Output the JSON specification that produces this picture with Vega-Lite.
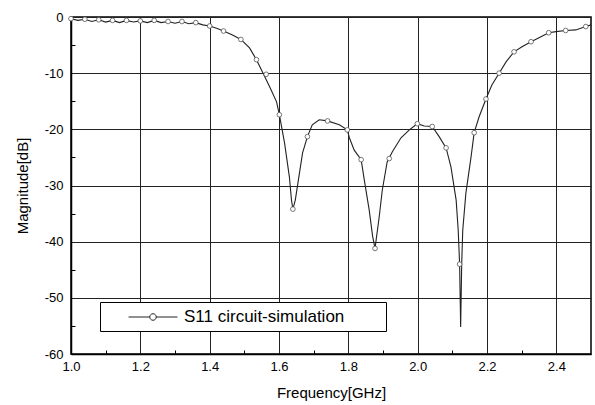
{
  "$schema": "https://vega.github.io/schema/vega-lite/v6.json",
  "width": 520,
  "height": 337,
  "autosize": {"type": "none"},
  "padding": {"left": 71, "top": 17, "right": 4, "bottom": 51},
  "background": "white",
  "config": {
    "font": "Liberation Sans",
    "view": {"stroke": "black", "strokeWidth": 1.5},
    "axis": {
      "labelFont": "Liberation Sans",
      "titleFont": "Liberation Sans",
      "labelFontSize": 13,
      "titleFontSize": 15,
      "titleFontWeight": "normal",
      "labelColor": "black",
      "titleColor": "black",
      "domainColor": "black",
      "domainWidth": 1.5,
      "gridColor": "#222",
      "gridWidth": 1,
      "tickColor": "black",
      "tickWidth": 1,
      "tickSize": -4,
      "labelFlush": false
    }
  },
  "datasets": {
    "curve": [
      {"f": 1.00, "s11": -0.3}, {"f": 1.02, "s11": -0.6}, {"f": 1.04, "s11": -0.4}, {"f": 1.06, "s11": -0.8},
      {"f": 1.08, "s11": -0.5}, {"f": 1.10, "s11": -0.9}, {"f": 1.12, "s11": -0.6}, {"f": 1.14, "s11": -1.0},
      {"f": 1.16, "s11": -0.6}, {"f": 1.18, "s11": -0.9}, {"f": 1.20, "s11": -0.7}, {"f": 1.22, "s11": -1.0},
      {"f": 1.24, "s11": -0.6}, {"f": 1.26, "s11": -1.0}, {"f": 1.28, "s11": -0.8}, {"f": 1.30, "s11": -1.1},
      {"f": 1.32, "s11": -0.8}, {"f": 1.34, "s11": -1.2}, {"f": 1.36, "s11": -1.0}, {"f": 1.38, "s11": -1.4},
      {"f": 1.40, "s11": -1.6}, {"f": 1.42, "s11": -2.0}, {"f": 1.44, "s11": -2.5}, {"f": 1.466, "s11": -3.2},
      {"f": 1.49, "s11": -4.0}, {"f": 1.515, "s11": -5.5}, {"f": 1.535, "s11": -7.6}, {"f": 1.553, "s11": -9.9},
      {"f": 1.573, "s11": -12.4}, {"f": 1.593, "s11": -15.1}, {"f": 1.601, "s11": -17.4}, {"f": 1.616, "s11": -22.4},
      {"f": 1.630, "s11": -28.5}, {"f": 1.636, "s11": -32.6}, {"f": 1.640, "s11": -34.2}, {"f": 1.647, "s11": -32.6},
      {"f": 1.659, "s11": -27.8}, {"f": 1.668, "s11": -24.2}, {"f": 1.682, "s11": -21.3}, {"f": 1.696, "s11": -19.2},
      {"f": 1.716, "s11": -18.3}, {"f": 1.740, "s11": -18.5}, {"f": 1.774, "s11": -19.2}, {"f": 1.797, "s11": -20.1},
      {"f": 1.803, "s11": -21.5}, {"f": 1.817, "s11": -23.7}, {"f": 1.837, "s11": -25.4}, {"f": 1.846, "s11": -29.0},
      {"f": 1.860, "s11": -34.3}, {"f": 1.870, "s11": -39.0}, {"f": 1.877, "s11": -41.2}, {"f": 1.889, "s11": -35.6},
      {"f": 1.898, "s11": -30.8}, {"f": 1.912, "s11": -25.8}, {"f": 1.927, "s11": -24.0}, {"f": 1.952, "s11": -21.5},
      {"f": 1.976, "s11": -20.1}, {"f": 1.999, "s11": -19.0}, {"f": 2.019, "s11": -19.4}, {"f": 2.042, "s11": -19.5},
      {"f": 2.062, "s11": -21.3}, {"f": 2.082, "s11": -23.3}, {"f": 2.096, "s11": -26.7}, {"f": 2.111, "s11": -32.6},
      {"f": 2.117, "s11": -38.0}, {"f": 2.121, "s11": -44.0}, {"f": 2.124, "s11": -55.2}, {"f": 2.127, "s11": -44.0},
      {"f": 2.130, "s11": -38.0}, {"f": 2.139, "s11": -31.4}, {"f": 2.154, "s11": -24.9}, {"f": 2.163, "s11": -20.6},
      {"f": 2.177, "s11": -17.8}, {"f": 2.197, "s11": -14.6}, {"f": 2.214, "s11": -12.1}, {"f": 2.235, "s11": -10.0},
      {"f": 2.255, "s11": -8.0}, {"f": 2.278, "s11": -6.2}, {"f": 2.301, "s11": -5.3}, {"f": 2.327, "s11": -4.4},
      {"f": 2.350, "s11": -3.7}, {"f": 2.378, "s11": -2.8}, {"f": 2.399, "s11": -2.6}, {"f": 2.427, "s11": -2.4},
      {"f": 2.456, "s11": -2.3}, {"f": 2.485, "s11": -1.7}, {"f": 2.500, "s11": -1.4}
    ],
    "markers": [
      {"f": 1.00, "s11": -0.3}, {"f": 1.04, "s11": -0.4}, {"f": 1.08, "s11": -0.5}, {"f": 1.12, "s11": -0.6},
      {"f": 1.16, "s11": -0.6}, {"f": 1.20, "s11": -0.7}, {"f": 1.24, "s11": -0.6}, {"f": 1.28, "s11": -0.8},
      {"f": 1.32, "s11": -0.8}, {"f": 1.36, "s11": -1.0}, {"f": 1.40, "s11": -1.6}, {"f": 1.44, "s11": -2.5},
      {"f": 1.49, "s11": -4.0}, {"f": 1.535, "s11": -7.6}, {"f": 1.563, "s11": -10.2}, {"f": 1.601, "s11": -17.4},
      {"f": 1.640, "s11": -34.2}, {"f": 1.682, "s11": -21.3}, {"f": 1.740, "s11": -18.5}, {"f": 1.797, "s11": -20.1},
      {"f": 1.837, "s11": -25.4}, {"f": 1.877, "s11": -41.2}, {"f": 1.918, "s11": -25.2}, {"f": 1.999, "s11": -19.0},
      {"f": 2.042, "s11": -19.5}, {"f": 2.082, "s11": -23.3}, {"f": 2.121, "s11": -44.0}, {"f": 2.163, "s11": -20.6},
      {"f": 2.197, "s11": -14.6}, {"f": 2.235, "s11": -10.0}, {"f": 2.278, "s11": -6.2}, {"f": 2.327, "s11": -4.4},
      {"f": 2.378, "s11": -2.8}, {"f": 2.427, "s11": -2.4}, {"f": 2.485, "s11": -1.7}
    ]
  },
  "encoding": {
    "x": {
      "field": "f", "type": "quantitative",
      "scale": {"domain": [1.0, 2.5], "nice": false, "zero": false},
      "axis": {
        "title": "Frequency[GHz]",
        "values": [1.0, 1.1, 1.2, 1.3, 1.4, 1.5, 1.6, 1.7, 1.8, 1.9, 2.0, 2.1, 2.2, 2.3, 2.4],
        "labelExpr": "round(datum.value * 10) % 2 == 0 ? format(datum.value, '.1f') : ''",
        "gridOpacity": {"condition": {"test": "round(datum.value * 10) % 2 == 0", "value": 1}, "value": 0},
        "tickOpacity": {"condition": {"test": "round(datum.value * 10) % 2 == 0", "value": 0}, "value": 1},
        "labelPadding": 10, "titlePadding": 12, "grid": true
      }
    },
    "y": {
      "field": "s11", "type": "quantitative",
      "scale": {"domain": [-60, 0], "nice": false},
      "axis": {
        "title": "Magnitude[dB]",
        "values": [-60, -55, -50, -45, -40, -35, -30, -25, -20, -15, -10, -5, 0],
        "labelExpr": "round(datum.value) % 10 == 0 ? replace(format(datum.value, 'd'), '\u2212', '-') : ''",
        "gridOpacity": {"condition": {"test": "round(datum.value) % 10 == 0", "value": 1}, "value": 0},
        "tickOpacity": {"condition": {"test": "round(datum.value) % 10 == 0", "value": 0}, "value": 1},
        "labelPadding": 12, "titlePadding": 14, "grid": true
      }
    }
  },
  "layer": [
    {
      "data": {"name": "curve"},
      "mark": {"type": "line", "strokeWidth": 1.1, "interpolate": "linear"},
      "encoding": {
        "color": {
          "datum": "S11 circuit-simulation",
          "type": "nominal",
          "scale": {"range": ["#222222"]},
          "legend": {
            "title": "\u2003",
            "titleOrient": "right",
            "titlePadding": 36,
            "titleFontSize": 17,
            "orient": "none",
            "legendX": 29,
            "legendY": 285,
            "symbolType": "M -3 0 H -0.4 M 0.4 0 H 3 M -0.4 0 A 0.4 0.4 0 1 1 0.4 0 A 0.4 0.4 0 1 1 -0.4 0",
            "symbolSize": 266,
            "symbolStrokeWidth": 1,
            "symbolStrokeColor": "#333333",
            "labelFont": "Liberation Sans",
            "labelFontSize": 17,
            "labelColor": "black",
            "labelOffset": 22,
            "labelLimit": 400,
            "strokeColor": "black",
            "fillColor": "white",
            "padding": 6,
            "symbolOffset": 38
          }
        }
      }
    },
    {
      "data": {"name": "markers"},
      "mark": {"type": "point", "filled": true, "fill": "white", "stroke": "#555555", "strokeWidth": 0.8, "size": 22, "opacity": 1}
    }
  ]
}
